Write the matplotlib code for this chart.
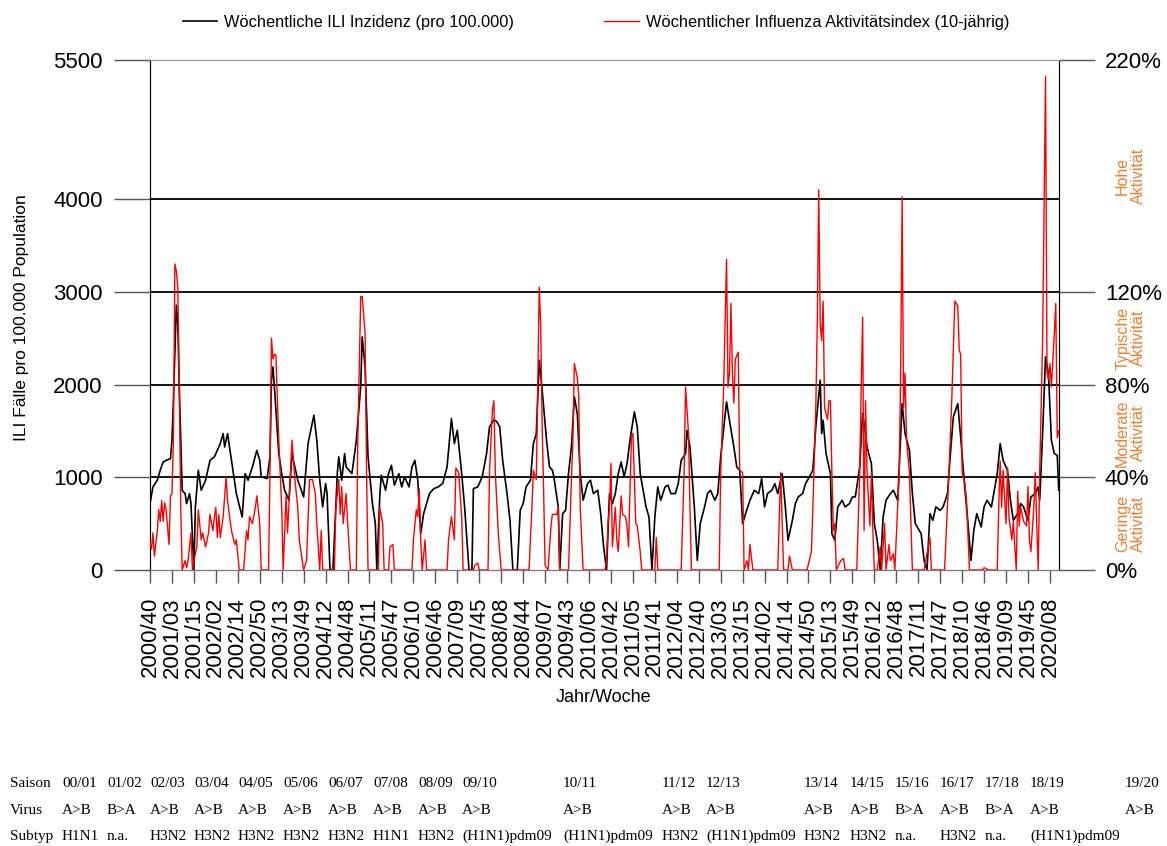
import numpy as np
import matplotlib
matplotlib.use('Agg')
import matplotlib.pyplot as plt
import matplotlib.transforms as mtransforms
from matplotlib.lines import Line2D

plt.rcParams['font.family'] = ['Liberation Sans', 'DejaVu Sans']

# x tick labels (every 15th week of the series)
wochen_labels = ['2000/40', '2001/03', '2001/15', '2002/02', '2002/14', '2002/50', '2003/13',
                 '2003/49', '2004/12', '2004/48', '2005/11', '2005/47', '2006/10', '2006/46',
                 '2007/09', '2007/45', '2008/08', '2008/44', '2009/07', '2009/43', '2010/06',
                 '2010/42', '2011/05', '2011/41', '2012/04', '2012/40', '2013/03', '2013/15',
                 '2014/02', '2014/14', '2014/50', '2015/13', '2015/49', '2016/12', '2016/48',
                 '2017/11', '2017/47', '2018/10', '2018/46', '2019/09', '2019/45', '2020/08']

# weekly ILI incidence (per 100.000), week index -> value
ili_woche = [0, 2, 5, 7, 9, 11, 14, 15, 16, 18, 19, 20, 22, 24, 25, 27, 28, 30, 31, 33, 35, 38,
             41, 44, 48, 50, 51, 53, 56, 59, 63, 65, 67, 70, 73, 75, 76, 80, 82, 83, 84, 85, 88,
             90, 92, 95, 97, 99, 101, 105, 108, 112, 114, 116, 118, 120, 121, 123, 125, 128, 129,
             131, 133, 134, 138, 141, 144, 145, 147, 149, 152, 154, 155, 157, 158, 161, 163, 165,
             167, 170, 172, 174, 177, 179, 181, 183, 185, 187, 189, 191, 194, 197, 200, 203, 206,
             208, 210, 213, 215, 218, 220, 221, 224, 227, 230, 232, 235, 237, 239, 241, 244, 246,
             248, 251, 253, 255, 257, 260, 262, 264, 266, 268, 271, 273, 275, 276, 279, 280, 282,
             284, 286, 288, 290, 292, 294, 296, 299, 301, 303, 306, 308, 310, 312, 314, 316, 318,
             320, 322, 324, 326, 328, 331, 333, 335, 339, 341, 343, 345, 347, 349, 352, 354, 356,
             359, 361, 363, 366, 367, 369, 372, 374, 376, 379, 381, 383, 386, 388, 390, 394, 396,
             399, 401, 403, 405, 407, 410, 413, 416, 418, 420, 422, 425, 427, 429, 432, 434, 436,
             439, 441, 443, 446, 448, 450, 453, 455, 458, 459, 460, 462, 465, 466, 468, 470, 473,
             475, 478, 480, 482, 485, 487, 489, 490, 493, 495, 497, 499, 501, 503, 506, 508, 511,
             514, 516, 519, 521, 523, 527, 529, 531, 533, 535, 537, 540, 542, 545, 547, 549, 552,
             554, 556, 559, 561, 563, 565, 568, 570, 572, 575, 579, 581, 583, 586, 588, 590, 593,
             595, 597, 600, 602, 605, 607, 608, 610, 612, 614, 616, 618, 620, 621]
ili_wert = [716, 896, 968, 1076, 1165, 1183, 1201, 1399, 1830, 2856, 2658, 1975, 860, 824, 716,
            824, 716, 0, 680, 1076, 860, 968, 1183, 1220, 1363, 1471, 1327, 1471, 1147, 824, 572,
            1040, 968, 1111, 1291, 1183, 1004, 986, 1220, 2047, 2191, 1975, 1255, 1040, 860, 752,
            1255, 1111, 968, 788, 1363, 1669, 1399, 968, 680, 932, 824, 0, 0, 1040, 1220, 968,
            1255, 1111, 1040, 1399, 1975, 2514, 2191, 1220, 716, 500, 0, 788, 1022, 860, 1040,
            1129, 914, 1040, 896, 1004, 896, 1111, 1183, 968, 392, 608, 716, 824, 878, 896, 932,
            1111, 1633, 1363, 1507, 1040, 680, 0, 0, 878, 896, 1004, 1255, 1543, 1620, 1600, 1543,
            1183, 824, 536, 0, 0, 644, 716, 896, 968, 1363, 1471, 2263, 1939, 1399, 1111, 1076,
            1004, 680, 0, 608, 644, 1040, 1327, 1867, 1687, 1040, 752, 932, 968, 824, 860, 608,
            248, 0, 824, 716, 824, 1040, 1165, 1004, 1147, 1399, 1705, 1543, 1040, 680, 572, 0,
            572, 896, 752, 896, 914, 824, 824, 932, 1183, 1255, 1507, 1327, 680, 104, 500, 680,
            824, 860, 752, 824, 1220, 1813, 1615, 1327, 1111, 1076, 500, 608, 752, 860, 824, 986,
            680, 824, 860, 932, 824, 1040, 716, 320, 536, 716, 788, 824, 932, 986, 1076, 1543,
            2047, 1471, 1615, 1255, 1040, 392, 320, 680, 752, 680, 716, 788, 788, 1111, 1687,
            1471, 1327, 1147, 500, 320, 0, 572, 752, 824, 860, 752, 1795, 1471, 1291, 824, 500,
            392, 104, 0, 608, 536, 680, 644, 680, 824, 1255, 1651, 1795, 1435, 1040, 500, 104,
            428, 608, 464, 680, 752, 680, 1040, 1363, 1183, 1076, 752, 536, 608, 716, 680, 536,
            788, 824, 896, 752, 1471, 2299, 2119, 1399, 1255, 1237, 860]

# weekly influenza activity index (10-year), percent
akt_woche = [0, 1, 2, 3, 5, 6, 7, 8, 9, 10, 11, 13, 14, 15, 16, 17, 18, 19, 20, 21, 22, 24, 25,
             26, 28, 29, 30, 32, 33, 35, 36, 38, 40, 41, 43, 44, 45, 46, 47, 48, 50, 52, 53, 55,
             56, 58, 59, 61, 64, 66, 67, 68, 70, 72, 73, 75, 76, 81, 82, 83, 84, 85, 86, 88, 90,
             91, 93, 94, 96, 97, 99, 101, 102, 105, 107, 109, 111, 113, 114, 116, 117, 118, 126,
             127, 129, 130, 131, 132, 134, 135, 137, 141, 142, 144, 145, 147, 148, 149, 156, 157,
             159, 160, 163, 164, 166, 167, 179, 180, 182, 183, 184, 185, 186, 188, 189, 203, 204,
             206, 208, 209, 211, 213, 214, 221, 222, 224, 225, 231, 232, 234, 235, 236, 238, 240,
             259, 261, 262, 264, 266, 267, 268, 269, 270, 272, 274, 275, 278, 279, 280, 286, 288,
             289, 290, 292, 293, 294, 296, 311, 312, 313, 314, 315, 316, 318, 319, 320, 322, 323,
             325, 326, 327, 329, 330, 332, 333, 335, 336, 345, 346, 347, 363, 365, 366, 368, 369,
             370, 389, 390, 392, 394, 395, 396, 397, 398, 399, 400, 402, 403, 405, 406, 408, 409,
             410, 412, 429, 431, 433, 436, 437, 439, 449, 452, 453, 455, 456, 457, 458, 459, 460,
             461, 463, 464, 465, 466, 467, 468, 469, 472, 474, 475, 483, 485, 486, 487, 488, 489,
             490, 492, 493, 494, 495, 497, 499, 500, 502, 503, 505, 506, 508, 509, 512, 513, 514,
             515, 516, 517, 519, 521, 529, 533, 534, 543, 546, 548, 550, 552, 553, 554, 555, 557,
             558, 560, 569, 570, 573, 579, 580, 581, 582, 583, 585, 586, 587, 589, 590, 592, 593,
             594, 595, 597, 599, 600, 601, 602, 604, 605, 606, 607, 608, 610, 612, 613, 614, 615,
             616, 618, 619, 620, 621]
akt_prozent = [12, 9, 16, 6, 17, 26, 21, 30, 21, 29, 26, 11, 32, 33, 56, 132, 129, 122, 78, 27,
               0, 4, 1, 4, 16, 0, 4, 10, 26, 13, 16, 10, 16, 24, 17, 23, 27, 14, 24, 14, 23, 40,
               30, 20, 16, 11, 13, 0, 0, 17, 13, 23, 20, 27, 32, 20, 0, 0, 42, 100, 91, 93, 93,
               56, 27, 0, 32, 16, 42, 56, 39, 27, 13, 0, 4, 39, 39, 33, 20, 0, 17, 0, 0, 27, 39,
               24, 36, 20, 33, 21, 0, 0, 56, 118, 118, 102, 42, 0, 0, 27, 20, 0, 0, 10, 11, 0, 0,
               13, 26, 23, 35, 13, 0, 13, 0, 0, 13, 23, 13, 44, 42, 23, 0, 0, 2, 3, 0, 0, 42, 69,
               73, 42, 16, 0, 0, 27, 43, 39, 122, 106, 62, 34, 2, 0, 19, 24, 24, 27, 0, 0, 39, 56,
               89, 83, 75, 27, 0, 0, 4, 20, 27, 46, 10, 27, 13, 8, 32, 24, 23, 19, 10, 57, 59, 20,
               19, 8, 0, 0, 14, 0, 0, 42, 79, 59, 27, 0, 0, 42, 78, 134, 79, 85, 115, 85, 72, 91,
               94, 43, 42, 0, 4, 0, 11, 0, 0, 42, 0, 0, 6, 0, 0, 8, 27, 70, 106, 164, 106, 99, 116,
               70, 65, 73, 73, 42, 17, 20, 0, 4, 5, 0, 0, 42, 78, 109, 17, 73, 42, 19, 42, 17, 0,
               0, 10, 0, 20, 0, 11, 4, 7, 0, 42, 85, 161, 70, 85, 56, 42, 0, 0, 14, 0, 0, 42, 75,
               116, 114, 95, 93, 42, 37, 30, 0, 0, 1, 0, 0, 27, 47, 27, 43, 20, 44, 23, 13, 21, 0,
               34, 19, 27, 21, 19, 36, 13, 8, 27, 42, 19, 0, 42, 99, 213, 85, 82, 89, 79, 102, 115,
               57, 60]

# season table below the chart
saison = ['00/01', '01/02', '02/03', '03/04', '04/05', '05/06', '06/07', '07/08', '08/09', '09/10',
          '10/11', '11/12', '12/13', '13/14', '14/15', '15/16', '16/17', '17/18', '18/19', '19/20']
virus = ['A>B', 'B>A', 'A>B', 'A>B', 'A>B', 'A>B', 'A>B', 'A>B', 'A>B', 'A>B',
         'A>B', 'A>B', 'A>B', 'A>B', 'A>B', 'B>A', 'A>B', 'B>A', 'A>B', 'A>B']
subtyp = ['H1N1', 'n.a.', 'H3N2', 'H3N2', 'H3N2', 'H3N2', 'H3N2', 'H1N1', 'H3N2', '(H1N1)pdm09',
          '(H1N1)pdm09', 'H3N2', '(H1N1)pdm09', 'H3N2', 'H3N2', 'n.a.', 'H3N2', 'n.a.',
          '(H1N1)pdm09', '']
# column positions of the table (figure pixels)
tabelle_x = [62, 107, 150, 194, 238, 283, 328, 373, 418, 462,
             563, 662, 706, 804, 850, 895, 940, 985, 1030, 1125]

W, H = 1167, 846
fig = plt.figure(figsize=(W / 100, H / 100), dpi=100)
ax = fig.add_axes([150 / W, 1 - 570 / H, 909 / W, 510 / H])
ax2 = ax.twinx()

for yv in [1000, 2000, 3000, 4000]:
    ax.axhline(yv, color='black', lw=1.3, zorder=1)

ax.plot(ili_woche, ili_wert, color='black', lw=1.2, zorder=3)
ax2.plot(akt_woche, akt_prozent, color='red', lw=1.0, zorder=3)

ax.set_xlim(0, 621.2)
ax.set_ylim(0, 5500)
ax2.set_ylim(0, 220)

ax.set_xticks(np.arange(len(wochen_labels)) * 15)
ax.set_xticklabels(wochen_labels, rotation=90, fontsize=16)
ax.tick_params(axis='x', length=9.5, width=1, color='#555555', pad=10)

ax.set_yticks([0, 1000, 2000, 3000, 4000, 5500])
ax.set_yticklabels(['0', '1000', '2000', '3000', '4000', '5500'], fontsize=16)
ax.tick_params(axis='y', length=26, width=1, color='#555555', pad=8)

ax2.set_yticks([0, 40, 80, 120, 220])
ax2.set_yticklabels(['0%', '40%', '80%', '120%', '220%'], fontsize=16)
ax2.tick_params(axis='y', length=26, width=1, color='#555555', pad=7)

for a in (ax, ax2):
    a.spines['left'].set_color('black')
    a.spines['right'].set_color('black')
    a.spines['top'].set_color('#999999')
    a.spines['bottom'].set_color('#777777')

# activity bands on the right
orange = '#EE7F2D'
trans = mtransforms.blended_transform_factory(ax.transAxes, ax.transData)
for yv, txt in [(4250, 'Hohe\nAktivität'), (2500, 'Typische\nAktivität'),
                (1480, 'Moderate\nAktivität'), (500, 'Geringe\nAktivität')]:
    ax.text(1.079, yv, txt, transform=trans, rotation=90, ha='center', va='center',
            color=orange, fontsize=11.5, linespacing=1.1)

fig.text(22 / W, 1 - 318 / H, 'ILI Fälle pro 100.000 Population', rotation=90,
         ha='center', va='center', fontsize=12.5)
fig.text(604 / W, 1 - 697 / H, 'Jahr/Woche', ha='center', va='center', fontsize=13)

handles = [Line2D([], [], color='black', lw=1.2), Line2D([], [], color='red', lw=1.0)]
fig.legend(handles, ['Wöchentliche ILI Inzidenz (pro 100.000)',
                     'Wöchentlicher Influenza Aktivitätsindex (10-jährig)'],
           loc='center', bbox_to_anchor=(596 / W, 1 - 22 / H), ncol=2, frameon=False,
           fontsize=11.8, handlelength=2.1, columnspacing=5.5, handletextpad=0.45)

# season table
serif = ['Liberation Serif', 'DejaVu Serif']
rows = [('Saison', saison, 783), ('Virus', virus, 810), ('Subtyp', subtyp, 836)]
for name, vals, yy in rows:
    fig.text(10 / W, 1 - yy / H, name, ha='left', va='center', fontsize=11, family=serif)
    for xx, v in zip(tabelle_x, vals):
        fig.text(xx / W, 1 - yy / H, v, ha='left', va='center', fontsize=11, family=serif)

fig.savefig('out.png', dpi=100)
